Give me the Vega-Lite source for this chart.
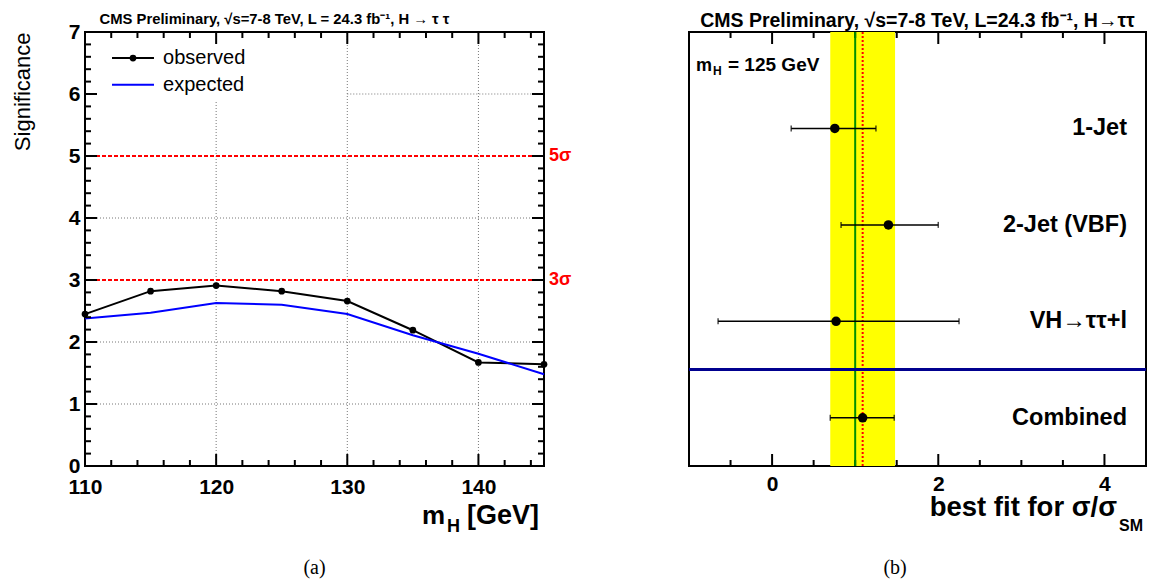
{
  "$schema": "https://vega.github.io/schema/vega-lite/v6.json",
  "padding": {"left": 10, "top": 9, "right": 0, "bottom": 0},
  "bounds": "flush",
  "spacing": 145,
  "background": "white",
  "config": {
    "view": {"stroke": "black", "strokeWidth": 2},
    "font": "Liberation Sans",
    "axis": {
      "domain": false, "grid": false, "ticks": false,
      "labelFont": "Liberation Sans", "labelFontSize": 21, "labelFontWeight": "bold", "labelColor": "black",
      "labelOverlap": false, "labelFlush": false,
      "titleFont": "Liberation Sans", "titleColor": "black", "format": "d"
    }
  },
  "datasets": {
    "sig": [
      {"mH": 110, "series": "observed", "significance": 2.45},
      {"mH": 115, "series": "observed", "significance": 2.82},
      {"mH": 120, "series": "observed", "significance": 2.91},
      {"mH": 125, "series": "observed", "significance": 2.82},
      {"mH": 130, "series": "observed", "significance": 2.66},
      {"mH": 135, "series": "observed", "significance": 2.19},
      {"mH": 140, "series": "observed", "significance": 1.67},
      {"mH": 145, "series": "observed", "significance": 1.64},
      {"mH": 110, "series": "expected", "significance": 2.38},
      {"mH": 115, "series": "expected", "significance": 2.47},
      {"mH": 120, "series": "expected", "significance": 2.63},
      {"mH": 125, "series": "expected", "significance": 2.60},
      {"mH": 130, "series": "expected", "significance": 2.45},
      {"mH": 135, "series": "expected", "significance": 2.11},
      {"mH": 140, "series": "expected", "significance": 1.81},
      {"mH": 145, "series": "expected", "significance": 1.48}
    ],
    "grid": [
      {"x0": 120, "x1": 120, "y0": 0, "y1": 5.9},
      {"x0": 130, "x1": 130, "y0": 0, "y1": 7},
      {"x0": 140, "x1": 140, "y0": 0, "y1": 7},
      {"x0": 110, "x1": 145, "y0": 1, "y1": 1},
      {"x0": 110, "x1": 145, "y0": 2, "y1": 2},
      {"x0": 110, "x1": 145, "y0": 4, "y1": 4},
      {"x0": 130, "x1": 145, "y0": 6, "y1": 6}
    ],
    "sigma": [
      {"level": 3, "label": "3σ"},
      {"level": 5, "label": "5σ"}
    ],
    "xTicksA": [
      {"v": 110, "major": true}, {"v": 112, "major": false}, {"v": 114, "major": false}, {"v": 116, "major": false}, {"v": 118, "major": false},
      {"v": 120, "major": true}, {"v": 122, "major": false}, {"v": 124, "major": false}, {"v": 126, "major": false}, {"v": 128, "major": false},
      {"v": 130, "major": true}, {"v": 132, "major": false}, {"v": 134, "major": false}, {"v": 136, "major": false}, {"v": 138, "major": false},
      {"v": 140, "major": true}, {"v": 142, "major": false}, {"v": 144, "major": false}
    ],
    "yTicksA": [
      {"v": 0, "major": true}, {"v": 0.2, "major": false}, {"v": 0.4, "major": false}, {"v": 0.6, "major": false}, {"v": 0.8, "major": false},
      {"v": 1, "major": true}, {"v": 1.2, "major": false}, {"v": 1.4, "major": false}, {"v": 1.6, "major": false}, {"v": 1.8, "major": false},
      {"v": 2, "major": true}, {"v": 2.2, "major": false}, {"v": 2.4, "major": false}, {"v": 2.6, "major": false}, {"v": 2.8, "major": false},
      {"v": 3, "major": true}, {"v": 3.2, "major": false}, {"v": 3.4, "major": false}, {"v": 3.6, "major": false}, {"v": 3.8, "major": false},
      {"v": 4, "major": true}, {"v": 4.2, "major": false}, {"v": 4.4, "major": false}, {"v": 4.6, "major": false}, {"v": 4.8, "major": false},
      {"v": 5, "major": true}, {"v": 5.2, "major": false}, {"v": 5.4, "major": false}, {"v": 5.6, "major": false}, {"v": 5.8, "major": false},
      {"v": 6, "major": true}, {"v": 6.2, "major": false}, {"v": 6.4, "major": false}, {"v": 6.6, "major": false}, {"v": 6.8, "major": false},
      {"v": 7, "major": true}
    ],
    "xTicksB": [
      {"v": -0.5, "major": false}, {"v": 0, "major": true}, {"v": 0.5, "major": false}, {"v": 1, "major": false}, {"v": 1.5, "major": false},
      {"v": 2, "major": true}, {"v": 2.5, "major": false}, {"v": 3, "major": false}, {"v": 3.5, "major": false}, {"v": 4, "major": true}
    ],
    "fits": [
      {"category": "1-Jet", "pos": 3.5, "best": 0.755, "lo": 0.23, "hi": 1.25},
      {"category": "2-Jet (VBF)", "pos": 2.5, "best": 1.40, "lo": 0.83, "hi": 2.0},
      {"category": "VH→ττ+l", "pos": 1.5, "best": 0.77, "lo": -0.65, "hi": 2.25},
      {"category": "Combined", "pos": 0.5, "best": 1.09, "lo": 0.70, "hi": 1.47}
    ],
    "band": [
      {"lo": 0.70, "hi": 1.48, "best": 1.09, "sm": 1, "divider": 1}
    ]
  },
  "hconcat": [
    {
      "width": 459,
      "height": 434,
      "title": {"text": "CMS  Preliminary, √s=7-8 TeV, L = 24.3 fb⁻¹, H → τ τ", "fontSize": 14.8, "fontWeight": "bold", "font": "Liberation Sans", "color": "black", "anchor": "middle", "dx": -40, "dy": 9, "offset": 3},
      "resolve": {"axis": {"x": "independent", "y": "independent"}},
      "layer": [
        {
          "data": {"name": "grid"},
          "mark": {"type": "rule", "color": "#777777", "strokeWidth": 1, "strokeDash": [1, 2]},
          "encoding": {
            "x": {"field": "x0", "type": "quantitative", "scale": {"domain": [110, 145], "nice": false, "zero": false}, "axis": null},
            "x2": {"field": "x1"},
            "y": {"field": "y0", "type": "quantitative", "scale": {"domain": [0, 7], "nice": false}, "axis": null},
            "y2": {"field": "y1"}
          }
        },
        {
          "data": {"name": "sigma"},
          "mark": {"type": "rule", "color": "#ff0000", "strokeWidth": 2, "strokeDash": [4, 2]},
          "encoding": {
            "y": {"field": "level", "type": "quantitative", "scale": {"domain": [0, 7], "nice": false}, "axis": null}
          }
        },
        {
          "data": {"name": "sigma"},
          "mark": {"type": "text", "color": "#ff0000", "fontSize": 18, "fontWeight": "bold", "align": "left", "baseline": "middle", "dx": 5},
          "encoding": {
            "x": {"datum": 145, "type": "quantitative", "scale": {"domain": [110, 145], "nice": false, "zero": false}, "axis": null},
            "y": {"field": "level", "type": "quantitative", "scale": {"domain": [0, 7], "nice": false}, "axis": null},
            "text": {"field": "label"}
          }
        },
        {
          "data": {"name": "sig"},
          "mark": {"type": "line", "strokeWidth": 2},
          "encoding": {
            "x": {"field": "mH", "type": "quantitative", "scale": {"domain": [110, 145], "nice": false, "zero": false},
              "axis": {"orient": "bottom", "title": null, "values": [110, 120, 130, 140], "labelPadding": 10}},
            "y": {"field": "significance", "type": "quantitative", "scale": {"domain": [0, 7], "nice": false},
              "axis": {"orient": "left", "title": "Significance", "titleFontSize": 22, "titleFontWeight": "normal", "titleAnchor": "end", "titlePadding": 34,
                "values": [0, 1, 2, 3, 4, 5, 6, 7], "labelPadding": 5}},
            "color": {"field": "series", "type": "nominal", "scale": {"domain": ["observed", "expected"], "range": ["#000000", "#0000ff"]}, "legend": null}
          }
        },
        {
          "data": {"name": "sig"},
          "transform": [{"filter": "datum.series === 'observed'"}],
          "mark": {"type": "point", "filled": true, "color": "#000000", "size": 45, "opacity": 1},
          "encoding": {
            "x": {"field": "mH", "type": "quantitative", "scale": {"domain": [110, 145], "nice": false, "zero": false}, "axis": null},
            "y": {"field": "significance", "type": "quantitative", "scale": {"domain": [0, 7], "nice": false}, "axis": null}
          }
        },
        {
          "data": {"name": "xTicksA"},
          "transform": [{"filter": "datum.major"}],
          "mark": {"type": "rule", "strokeWidth": 2, "color": "black"},
          "encoding": {
            "x": {"field": "v", "type": "quantitative", "scale": {"domain": [110, 145], "nice": false, "zero": false}, "axis": null},
            "y": {"datum": 0, "type": "quantitative", "scale": {"domain": [0, 7], "nice": false}, "axis": null},
            "y2": {"datum": 0.194}
          }
        },
        {
          "data": {"name": "xTicksA"},
          "transform": [{"filter": "!datum.major"}],
          "mark": {"type": "rule", "strokeWidth": 2, "color": "black"},
          "encoding": {
            "x": {"field": "v", "type": "quantitative", "scale": {"domain": [110, 145], "nice": false, "zero": false}, "axis": null},
            "y": {"datum": 0, "type": "quantitative", "scale": {"domain": [0, 7], "nice": false}, "axis": null},
            "y2": {"datum": 0.097}
          }
        },
        {
          "data": {"name": "xTicksA"},
          "transform": [{"filter": "datum.major"}],
          "mark": {"type": "rule", "strokeWidth": 2, "color": "black"},
          "encoding": {
            "x": {"field": "v", "type": "quantitative", "scale": {"domain": [110, 145], "nice": false, "zero": false}, "axis": null},
            "y": {"datum": 7, "type": "quantitative", "scale": {"domain": [0, 7], "nice": false}, "axis": null},
            "y2": {"datum": 6.806}
          }
        },
        {
          "data": {"name": "xTicksA"},
          "transform": [{"filter": "!datum.major"}],
          "mark": {"type": "rule", "strokeWidth": 2, "color": "black"},
          "encoding": {
            "x": {"field": "v", "type": "quantitative", "scale": {"domain": [110, 145], "nice": false, "zero": false}, "axis": null},
            "y": {"datum": 7, "type": "quantitative", "scale": {"domain": [0, 7], "nice": false}, "axis": null},
            "y2": {"datum": 6.903}
          }
        },
        {
          "data": {"name": "yTicksA"},
          "transform": [{"filter": "datum.major"}],
          "mark": {"type": "rule", "strokeWidth": 2, "color": "black"},
          "encoding": {
            "y": {"field": "v", "type": "quantitative", "scale": {"domain": [0, 7], "nice": false}, "axis": null},
            "x": {"datum": 110, "type": "quantitative", "scale": {"domain": [110, 145], "nice": false, "zero": false}, "axis": null},
            "x2": {"datum": 110.915}
          }
        },
        {
          "data": {"name": "yTicksA"},
          "transform": [{"filter": "!datum.major"}],
          "mark": {"type": "rule", "strokeWidth": 2, "color": "black"},
          "encoding": {
            "y": {"field": "v", "type": "quantitative", "scale": {"domain": [0, 7], "nice": false}, "axis": null},
            "x": {"datum": 110, "type": "quantitative", "scale": {"domain": [110, 145], "nice": false, "zero": false}, "axis": null},
            "x2": {"datum": 110.457}
          }
        },
        {
          "data": {"name": "yTicksA"},
          "transform": [{"filter": "datum.major"}],
          "mark": {"type": "rule", "strokeWidth": 2, "color": "black"},
          "encoding": {
            "y": {"field": "v", "type": "quantitative", "scale": {"domain": [0, 7], "nice": false}, "axis": null},
            "x": {"datum": 145, "type": "quantitative", "scale": {"domain": [110, 145], "nice": false, "zero": false}, "axis": null},
            "x2": {"datum": 144.085}
          }
        },
        {
          "data": {"name": "yTicksA"},
          "transform": [{"filter": "!datum.major"}],
          "mark": {"type": "rule", "strokeWidth": 2, "color": "black"},
          "encoding": {
            "y": {"field": "v", "type": "quantitative", "scale": {"domain": [0, 7], "nice": false}, "axis": null},
            "x": {"datum": 145, "type": "quantitative", "scale": {"domain": [110, 145], "nice": false, "zero": false}, "axis": null},
            "x2": {"datum": 144.543}
          }
        },
        {
          "data": {"values": [{}]},
          "mark": {"type": "rule", "color": "#000000", "strokeWidth": 2},
          "encoding": {
            "x": {"datum": 112.06, "type": "quantitative", "scale": {"domain": [110, 145], "nice": false, "zero": false}, "axis": null},
            "x2": {"datum": 115.26},
            "y": {"datum": 6.58, "type": "quantitative", "scale": {"domain": [0, 7], "nice": false}, "axis": null}
          }
        },
        {
          "data": {"values": [{}]},
          "mark": {"type": "point", "filled": true, "color": "#000000", "size": 45, "opacity": 1},
          "encoding": {
            "x": {"datum": 113.66, "type": "quantitative", "scale": {"domain": [110, 145], "nice": false, "zero": false}, "axis": null},
            "y": {"datum": 6.58, "type": "quantitative", "scale": {"domain": [0, 7], "nice": false}, "axis": null}
          }
        },
        {
          "data": {"values": [{}]},
          "mark": {"type": "text", "text": "observed", "align": "left", "baseline": "middle", "fontSize": 20, "color": "black"},
          "encoding": {
            "x": {"datum": 115.95, "type": "quantitative", "scale": {"domain": [110, 145], "nice": false, "zero": false}, "axis": null},
            "y": {"datum": 6.58, "type": "quantitative", "scale": {"domain": [0, 7], "nice": false}, "axis": null}
          }
        },
        {
          "data": {"values": [{}]},
          "mark": {"type": "rule", "color": "#0000ff", "strokeWidth": 2},
          "encoding": {
            "x": {"datum": 112.06, "type": "quantitative", "scale": {"domain": [110, 145], "nice": false, "zero": false}, "axis": null},
            "x2": {"datum": 115.26},
            "y": {"datum": 6.15, "type": "quantitative", "scale": {"domain": [0, 7], "nice": false}, "axis": null}
          }
        },
        {
          "data": {"values": [{}]},
          "mark": {"type": "text", "text": "expected", "align": "left", "baseline": "middle", "fontSize": 20, "color": "black"},
          "encoding": {
            "x": {"datum": 115.95, "type": "quantitative", "scale": {"domain": [110, 145], "nice": false, "zero": false}, "axis": null},
            "y": {"datum": 6.15, "type": "quantitative", "scale": {"domain": [0, 7], "nice": false}, "axis": null}
          }
        },
        {
          "data": {"values": [{}]},
          "mark": {"type": "text", "text": "[GeV]", "align": "right", "baseline": "alphabetic", "fontSize": 27, "fontWeight": "bold", "color": "black", "dx": -5, "dy": 58},
          "encoding": {
            "x": {"datum": 145, "type": "quantitative", "scale": {"domain": [110, 145], "nice": false, "zero": false}, "axis": null},
            "y": {"datum": 0, "type": "quantitative", "scale": {"domain": [0, 7], "nice": false}, "axis": null}
          }
        },
        {
          "data": {"values": [{}]},
          "mark": {"type": "text", "text": "H", "align": "right", "baseline": "alphabetic", "fontSize": 18, "fontWeight": "bold", "color": "black", "dx": -84, "dy": 66},
          "encoding": {
            "x": {"datum": 145, "type": "quantitative", "scale": {"domain": [110, 145], "nice": false, "zero": false}, "axis": null},
            "y": {"datum": 0, "type": "quantitative", "scale": {"domain": [0, 7], "nice": false}, "axis": null}
          }
        },
        {
          "data": {"values": [{}]},
          "mark": {"type": "text", "text": "m", "align": "right", "baseline": "alphabetic", "fontSize": 26, "fontWeight": "bold", "color": "black", "dx": -99, "dy": 58},
          "encoding": {
            "x": {"datum": 145, "type": "quantitative", "scale": {"domain": [110, 145], "nice": false, "zero": false}, "axis": null},
            "y": {"datum": 0, "type": "quantitative", "scale": {"domain": [0, 7], "nice": false}, "axis": null}
          }
        },
        {
          "data": {"values": [{}]},
          "mark": {"type": "text", "text": "(a)", "align": "center", "baseline": "middle", "fontSize": 20, "font": "Liberation Serif", "color": "black", "dy": 102},
          "encoding": {
            "x": {"datum": 127.5, "type": "quantitative", "scale": {"domain": [110, 145], "nice": false, "zero": false}, "axis": null},
            "y": {"datum": 0, "type": "quantitative", "scale": {"domain": [0, 7], "nice": false}, "axis": null}
          }
        }
      ]
    },
    {
      "width": 457,
      "height": 434,
      "title": {"text": "CMS Preliminary, √s=7-8 TeV, L=24.3 fb⁻¹, H→ττ", "fontSize": 19.5, "fontWeight": "bold", "font": "Liberation Sans", "color": "black", "anchor": "middle", "dy": 3, "offset": 3},
      "resolve": {"axis": {"x": "independent", "y": "independent"}},
      "layer": [
        {
          "data": {"name": "band"},
          "mark": {"type": "rect", "color": "#ffff00", "opacity": 1},
          "encoding": {
            "x": {"field": "lo", "type": "quantitative", "scale": {"domain": [-1, 4.5], "nice": false, "zero": false},
              "axis": {"orient": "bottom", "title": null, "values": [0, 2, 4], "labelPadding": 7}},
            "x2": {"field": "hi"},
            "y": {"datum": 0, "type": "quantitative", "scale": {"domain": [0, 4.5], "nice": false}, "axis": null},
            "y2": {"datum": 4.5}
          }
        },
        {
          "data": {"name": "xTicksB"},
          "transform": [{"filter": "datum.major"}],
          "mark": {"type": "rule", "strokeWidth": 2, "color": "black"},
          "encoding": {
            "x": {"field": "v", "type": "quantitative", "scale": {"domain": [-1, 4.5], "nice": false, "zero": false}, "axis": null},
            "y": {"datum": 0, "type": "quantitative", "scale": {"domain": [0, 4.5], "nice": false}, "axis": null},
            "y2": {"datum": 0.1244}
          }
        },
        {
          "data": {"name": "xTicksB"},
          "transform": [{"filter": "!datum.major"}],
          "mark": {"type": "rule", "strokeWidth": 2, "color": "black"},
          "encoding": {
            "x": {"field": "v", "type": "quantitative", "scale": {"domain": [-1, 4.5], "nice": false, "zero": false}, "axis": null},
            "y": {"datum": 0, "type": "quantitative", "scale": {"domain": [0, 4.5], "nice": false}, "axis": null},
            "y2": {"datum": 0.0622}
          }
        },
        {
          "data": {"name": "xTicksB"},
          "transform": [{"filter": "datum.major"}],
          "mark": {"type": "rule", "strokeWidth": 2, "color": "black"},
          "encoding": {
            "x": {"field": "v", "type": "quantitative", "scale": {"domain": [-1, 4.5], "nice": false, "zero": false}, "axis": null},
            "y": {"datum": 4.5, "type": "quantitative", "scale": {"domain": [0, 4.5], "nice": false}, "axis": null},
            "y2": {"datum": 4.3756}
          }
        },
        {
          "data": {"name": "xTicksB"},
          "transform": [{"filter": "!datum.major"}],
          "mark": {"type": "rule", "strokeWidth": 2, "color": "black"},
          "encoding": {
            "x": {"field": "v", "type": "quantitative", "scale": {"domain": [-1, 4.5], "nice": false, "zero": false}, "axis": null},
            "y": {"datum": 4.5, "type": "quantitative", "scale": {"domain": [0, 4.5], "nice": false}, "axis": null},
            "y2": {"datum": 4.4378}
          }
        },
        {
          "data": {"name": "band"},
          "mark": {"type": "rule", "color": "#009000", "strokeWidth": 2},
          "encoding": {
            "x": {"field": "sm", "type": "quantitative", "scale": {"domain": [-1, 4.5], "nice": false, "zero": false}, "axis": null}
          }
        },
        {
          "data": {"name": "band"},
          "mark": {"type": "rule", "color": "#ff0000", "strokeWidth": 2, "strokeDash": [2, 2]},
          "encoding": {
            "x": {"field": "best", "type": "quantitative", "scale": {"domain": [-1, 4.5], "nice": false, "zero": false}, "axis": null}
          }
        },
        {
          "data": {"name": "band"},
          "mark": {"type": "rule", "color": "#00008f", "strokeWidth": 3},
          "encoding": {
            "y": {"field": "divider", "type": "quantitative", "scale": {"domain": [0, 4.5], "nice": false}, "axis": null}
          }
        },
        {
          "data": {"name": "fits"},
          "mark": {"type": "errorbar", "color": "black", "ticks": {"size": 6, "thickness": 1.5, "color": "black"}, "rule": {"strokeWidth": 1.5, "color": "black"}},
          "encoding": {
            "x": {"field": "lo", "type": "quantitative", "scale": {"domain": [-1, 4.5], "nice": false, "zero": false}, "axis": null},
            "x2": {"field": "hi"},
            "y": {"field": "pos", "type": "quantitative", "scale": {"domain": [0, 4.5], "nice": false}, "axis": null}
          }
        },
        {
          "data": {"name": "fits"},
          "mark": {"type": "circle", "color": "black", "size": 90, "opacity": 1},
          "encoding": {
            "x": {"field": "best", "type": "quantitative", "scale": {"domain": [-1, 4.5], "nice": false, "zero": false}, "axis": null},
            "y": {"field": "pos", "type": "quantitative", "scale": {"domain": [0, 4.5], "nice": false}, "axis": null}
          }
        },
        {
          "data": {"name": "fits"},
          "mark": {"type": "text", "align": "right", "baseline": "middle", "fontSize": 23.5, "fontWeight": "bold", "color": "black", "dx": -19},
          "encoding": {
            "x": {"datum": 4.5, "type": "quantitative", "scale": {"domain": [-1, 4.5], "nice": false, "zero": false}, "axis": null},
            "y": {"field": "pos", "type": "quantitative", "scale": {"domain": [0, 4.5], "nice": false}, "axis": null},
            "text": {"field": "category"}
          }
        },
        {
          "data": {"values": [{}]},
          "mark": {"type": "text", "text": "m", "align": "left", "baseline": "alphabetic", "fontSize": 18, "fontWeight": "bold", "color": "black", "dx": 7, "dy": 39},
          "encoding": {
            "x": {"datum": -1, "type": "quantitative", "scale": {"domain": [-1, 4.5], "nice": false, "zero": false}, "axis": null},
            "y": {"datum": 4.5, "type": "quantitative", "scale": {"domain": [0, 4.5], "nice": false}, "axis": null}
          }
        },
        {
          "data": {"values": [{}]},
          "mark": {"type": "text", "text": "H", "align": "left", "baseline": "alphabetic", "fontSize": 12, "fontWeight": "bold", "color": "black", "dx": 24, "dy": 43},
          "encoding": {
            "x": {"datum": -1, "type": "quantitative", "scale": {"domain": [-1, 4.5], "nice": false, "zero": false}, "axis": null},
            "y": {"datum": 4.5, "type": "quantitative", "scale": {"domain": [0, 4.5], "nice": false}, "axis": null}
          }
        },
        {
          "data": {"values": [{}]},
          "mark": {"type": "text", "text": "= 125 GeV", "align": "left", "baseline": "alphabetic", "fontSize": 19, "fontWeight": "bold", "color": "black", "dx": 39, "dy": 39},
          "encoding": {
            "x": {"datum": -1, "type": "quantitative", "scale": {"domain": [-1, 4.5], "nice": false, "zero": false}, "axis": null},
            "y": {"datum": 4.5, "type": "quantitative", "scale": {"domain": [0, 4.5], "nice": false}, "axis": null}
          }
        },
        {
          "data": {"values": [{}]},
          "mark": {"type": "text", "text": "best fit for σ/σ", "align": "right", "baseline": "alphabetic", "fontSize": 27.5, "fontWeight": "bold", "color": "black", "dx": -29, "dy": 50},
          "encoding": {
            "x": {"datum": 4.5, "type": "quantitative", "scale": {"domain": [-1, 4.5], "nice": false, "zero": false}, "axis": null},
            "y": {"datum": 0, "type": "quantitative", "scale": {"domain": [0, 4.5], "nice": false}, "axis": null}
          }
        },
        {
          "data": {"values": [{}]},
          "mark": {"type": "text", "text": "SM", "align": "right", "baseline": "alphabetic", "fontSize": 16, "fontWeight": "bold", "color": "black", "dx": -3, "dy": 65},
          "encoding": {
            "x": {"datum": 4.5, "type": "quantitative", "scale": {"domain": [-1, 4.5], "nice": false, "zero": false}, "axis": null},
            "y": {"datum": 0, "type": "quantitative", "scale": {"domain": [0, 4.5], "nice": false}, "axis": null}
          }
        },
        {
          "data": {"values": [{}]},
          "mark": {"type": "text", "text": "(b)", "align": "center", "baseline": "middle", "fontSize": 20, "font": "Liberation Serif", "color": "black", "dy": 102},
          "encoding": {
            "x": {"datum": 1.48, "type": "quantitative", "scale": {"domain": [-1, 4.5], "nice": false, "zero": false}, "axis": null},
            "y": {"datum": 0, "type": "quantitative", "scale": {"domain": [0, 4.5], "nice": false}, "axis": null}
          }
        }
      ]
    }
  ]
}
